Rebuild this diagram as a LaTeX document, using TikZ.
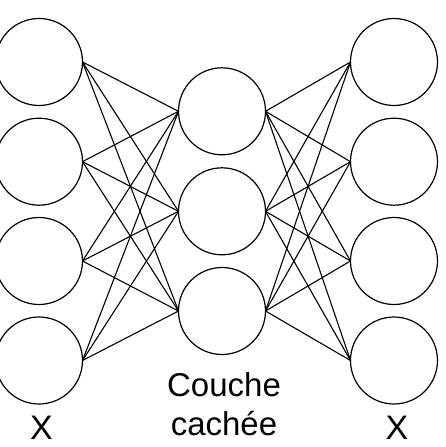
\documentclass[tikz,border=0pt]{standalone}
\usepackage{fontspec}
\setmainfont{Liberation Sans}
\begin{document}
\begin{tikzpicture}[x=1pt,y=-1pt,
  neuron/.style={draw,circle,line width=1.2pt,minimum size=87pt,inner sep=0pt,outer sep=0pt},
  conn/.style={line width=1.1pt},
  lbl/.style={anchor=base,inner sep=0pt,font=\fontsize{33}{33}\selectfont}]
\useasboundingbox (0,0) rectangle (445,447);
\foreach \i/\y in {1/62,2/161.7,3/261,4/360.5}{
  \node[neuron] (l\i) at (39,\y) {};
  \node[neuron] (r\i) at (394,\y) {};
}
\foreach \j/\y in {1/111.3,2/211.3,3/311}{
  \node[neuron] (m\j) at (222,\y) {};
}
\foreach \i in {1,...,4}{
  \foreach \j in {1,2,3}{
    \draw[conn] (l\i.east) -- (m\j.west);
    \draw[conn] (m\j.east) -- (r\i.west);
  }
}
\node[lbl] (t1) at (224,396) {Couche};
\node[lbl] (t2) at (224,435) {cachée};
\node[lbl,font=\fontsize{34}{34}\selectfont] (x1) at (41.5,439.5) {X};
\node[lbl,font=\fontsize{34}{34}\selectfont] (x2) at (397,439.5) {X};
\end{tikzpicture}
\end{document}
